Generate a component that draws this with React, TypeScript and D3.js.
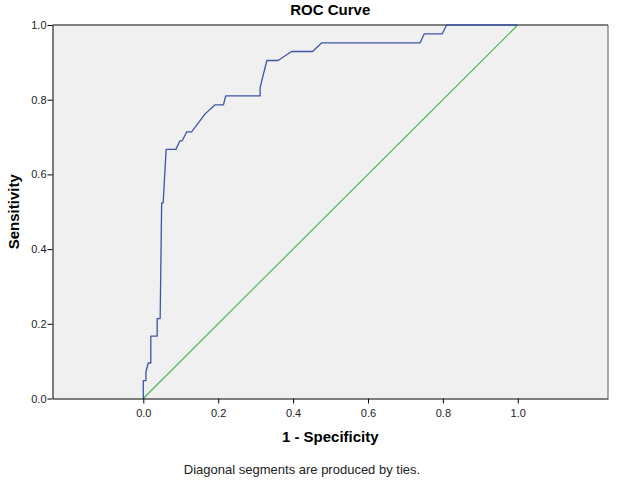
import { useEffect, useRef } from "react";
import * as d3 from "d3";

// ROC points (1 - specificity, sensitivity)
const FPR = [0, 0, 0.007, 0.007, 0.013, 0.02, 0.02, 0.037, 0.037, 0.045, 0.049, 0.053, 0.061, 0.087, 0.098, 0.104, 0.116, 0.129, 0.165, 0.191, 0.214, 0.22, 0.312, 0.312, 0.33, 0.36, 0.396, 0.452, 0.476, 0.739, 0.75, 0.798, 0.81, 1.0];
const TPR = [0, 0.048, 0.048, 0.071, 0.095, 0.095, 0.167, 0.167, 0.214, 0.214, 0.524, 0.524, 0.667, 0.667, 0.69, 0.69, 0.714, 0.714, 0.762, 0.786, 0.786, 0.81, 0.81, 0.833, 0.905, 0.905, 0.929, 0.929, 0.952, 0.952, 0.976, 0.976, 1.0, 1.0];
const REF = [0, 1];
const TICKS = [0, 0.2, 0.4, 0.6, 0.8, 1.0];

const W = 617, H = 482;
const m = { left: 52.5, right: 9, top: 25, bottom: 83.5 };

export default function App() {
  const ref = useRef<SVGSVGElement>(null);

  useEffect(() => {
    if (!ref.current) return;
    const svg = d3.select(ref.current);
    svg.selectAll("*").remove();

    const iW = W - m.left - m.right;
    const iH = H - m.top - m.bottom;
    const x = d3.scaleLinear().domain([-0.2425, 1.241]).range([0, iW]);
    const y = d3.scaleLinear().domain([0, 1]).range([iH, 0]);
    const font = "Arial, 'Liberation Sans', sans-serif";

    svg.append("rect").attr("width", W).attr("height", H).attr("fill", "#fff");

    const g = svg.append("g").attr("transform", `translate(${m.left},${m.top})`);

    g.append("rect").attr("width", iW).attr("height", iH).attr("fill", "#f0f0f0");

    // frame: gray top/right
    g.append("line").attr("x1", 0).attr("x2", iW).attr("y1", 0).attr("y2", 0)
      .attr("stroke", "#808080").attr("stroke-width", 2);
    g.append("line").attr("x1", iW).attr("x2", iW).attr("y1", 0).attr("y2", iH)
      .attr("stroke", "#5a5a5a").attr("stroke-width", 1);

    // reference diagonal
    const line = d3.line<number>().x(d => x(FPR[d])).y(d => y(TPR[d]));
    g.append("path")
      .attr("d", d3.line<number>().x(d => x(d)).y(d => y(d))(REF) as string)
      .attr("fill", "none").attr("stroke", "#3cb54a").attr("stroke-width", 1.1);

    // ROC curve
    g.append("path")
      .attr("d", line(d3.range(FPR.length)) as string)
      .attr("fill", "none").attr("stroke", "#3d55a5").attr("stroke-width", 1.3)
      .attr("stroke-linejoin", "round");

    // axes
    const xAxis = g.append("g").attr("transform", `translate(0,${iH})`)
      .call(d3.axisBottom(x).tickValues(TICKS).tickFormat(d3.format(".1f")).tickSize(5).tickSizeOuter(0));
    xAxis.select(".domain").attr("stroke", "#000");
    xAxis.selectAll(".tick line").attr("stroke", "#000");
    xAxis.selectAll(".tick text").attr("font-family", font).attr("font-size", "11px").attr("fill", "#222").attr("dy", "0.95em");

    const yAxis = g.append("g")
      .call(d3.axisLeft(y).tickValues(TICKS).tickFormat(d3.format(".1f")).tickSize(5).tickSizeOuter(0));
    yAxis.select(".domain").attr("stroke", "#000");
    yAxis.selectAll(".tick line").attr("stroke", "#000");
    yAxis.selectAll(".tick text").attr("font-family", font).attr("font-size", "11px").attr("fill", "#222").attr("x", -6);

    // titles
    svg.append("text").attr("x", m.left + iW / 2).attr("y", 15)
      .attr("text-anchor", "middle").attr("font-family", font).attr("font-weight", "bold")
      .attr("font-size", "15px").text("ROC Curve");

    svg.append("text").attr("x", m.left + iW / 2).attr("y", 442)
      .attr("text-anchor", "middle").attr("font-family", font).attr("font-weight", "bold")
      .attr("font-size", "15px").text("1 - Specificity");

    svg.append("text").attr("transform", `translate(19,${m.top + iH / 2}) rotate(-90)`)
      .attr("text-anchor", "middle").attr("font-family", font).attr("font-weight", "bold")
      .attr("font-size", "15px").text("Sensitivity");

    svg.append("text").attr("x", 302).attr("y", 474)
      .attr("text-anchor", "middle").attr("font-family", font)
      .attr("font-size", "13px").attr("fill", "#222").text("Diagonal segments are produced by ties.");
  }, []);

  return <svg ref={ref} width={W} height={H} style={{ position: "absolute", left: 0, top: 0 }} />;
}
